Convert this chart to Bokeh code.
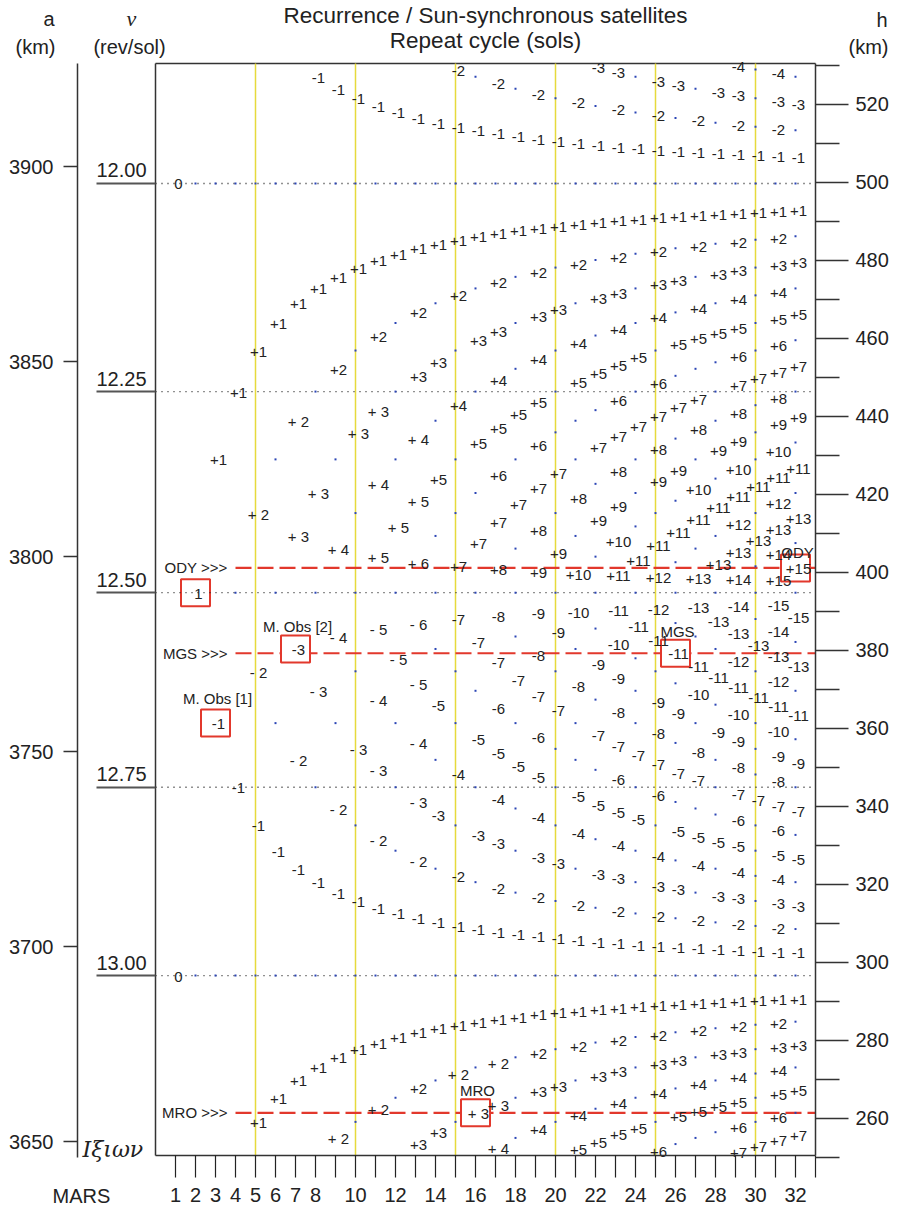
import math
from math import gcd

from bokeh.plotting import figure
from bokeh.models import (Range1d, LinearAxis, FixedTicker, ColumnDataSource,
                          CustomJSTickFormatter)
from bokeh.core.properties import value
from bokeh.embed import file_html
from bokeh.resources import INLINE

# ------------------------------------------------------------------ data
CYCLES = list(range(1, 33))                      # repeat cycles shown (sols)
X_TICKS = list(range(1, 34))
X_TICK_LABELS = ["1", "2", "3", "4", "5", "6", "7", "8", "", "10", "", "12", "", "14",
                 "", "16", "", "18", "", "20", "", "22", "", "24", "", "26", "", "28",
                 "", "30", "", "32", ""]
YELLOW_CYCLES = [5, 10, 15, 20, 25, 30]
NU_REF = [12.00, 12.25, 12.50, 12.75, 13.00]     # rev/sol
NU_REF_LABELS = ["12.00", "12.25", "12.50", "12.75", "13.00"]
H_TICKS = [260, 280, 300, 320, 340, 360, 380, 400, 420, 440, 460, 480, 500, 520]
H_MINOR = [250, 270, 290, 310, 330, 350, 370, 390, 410, 430, 450, 470, 490, 510, 530]
A_TICKS = [3650, 3700, 3750, 3800, 3850, 3900]

CYCLE_MIN, CYCLE_MAX = 0, 33                     # repeat-cycle axis extent
H_MIN, H_MAX = 250.5, 530.5                      # altitude range (km)
MARS_RADIUS = 3396.0                             # a = h + R
NU_KM_SCALE = 20486.0                            # h = S * nu^(-2/3) - O  (chart's nu scale)
NU_KM_OFFSET = 3408.7

# boxed orbits: cycle (sols), revolutions per cycle, name
BOX_CYCLE = [2, 3, 7, 26, 32, 16]
BOX_REVS = [25, 38, 88, 327, 399, 211]
BOX_NAMES = ["", "M. Obs [1]", "M. Obs [2]", "MGS", "ODY", "MRO"]

SAT_NAMES = ["ODY", "MGS", "MRO"]
SAT_CYCLE = [32, 26, 16]
SAT_REVS = [399, 327, 211]
SAT_LINE_START = 4                               # sols

# ------------------------------------------------------------------ helpers
def h_of_nu(nu):
    return NU_KM_SCALE * nu ** (-2.0 / 3.0) - NU_KM_OFFSET


def nu_of_h(h):
    return ((h + NU_KM_OFFSET) / NU_KM_SCALE) ** (-1.5)


def label_text(k, c, nu):
    if k == 0:
        return "0"
    if abs(nu - 12.5) < 1e-9:
        return str(abs(k))
    sign = "+" if k > 0 else "-"
    spaced = abs(k) >= 2 and ((c <= 13 and 12.26 < nu < 13.0 and not (c == 7 and k == -3))
                              or (nu > 13.0 and c <= 17 and c not in (13, 14)))
    return f"{sign}{' ' if spaced else ''}{abs(k)}"


nu_top = nu_of_h(H_MAX)
nu_bot = nu_of_h(H_MIN)
lab_x, lab_y, lab_t, dot_x, dot_y = [], [], [], [], []
for c in CYCLES:
    for n in range(math.ceil(nu_top * c), math.floor(nu_bot * c) + 1):
        nu = n / c
        h = h_of_nu(nu)
        if gcd(n, c) == 1:
            base = 12 if nu < 12.5 else 13
            k = n - base * c
            lab_x.append(c)
            lab_y.append(h)
            lab_t.append(label_text(k, c, nu))
        else:
            dot_x.append(c)
            dot_y.append(h)

# ------------------------------------------------------------------ layout constants
W, H = 899, 1208
BOX_LEFT_PX, BOX_TOP_PX = 155, 63                # where the plot box sits on the canvas
PX_PER_SOL, PX_PER_KM = 20.0, 3.9
FONT = "Liberation Sans"
SERIF = "Liberation Serif"
INK = "#222222"
RED = "#e2382c"


def dx(px):
    return CYCLE_MIN + (px - BOX_LEFT_PX) / PX_PER_SOL


def dy(py):
    return H_MAX - (py - BOX_TOP_PX) / PX_PER_KM


p = figure(width=W, height=H, x_range=Range1d(dx(0), dx(W)), y_range=Range1d(dy(H), dy(0)),
           output_backend="svg", toolbar_location=None,
           x_axis_location=None, y_axis_location=None,
           min_border_left=0, min_border_right=0, min_border_top=0, min_border_bottom=0)
p.grid.visible = False
p.outline_line_color = None
p.background_fill_color = "white"
p.border_fill_color = "white"
p.extra_y_ranges = {"a": Range1d(dy(H) + MARS_RADIUS, dy(0) + MARS_RADIUS)}

# bottom axis (repeat cycle)
xaxis = LinearAxis(ticker=FixedTicker(ticks=X_TICKS, minor_ticks=[]), fixed_location=H_MIN,
                   bounds=(CYCLE_MIN, CYCLE_MAX),
                   major_label_overrides={t: s for t, s in zip(X_TICKS, X_TICK_LABELS)})
xaxis.major_tick_out = 22
xaxis.major_tick_in = 0
xaxis.major_tick_line_color = "#222"
xaxis.major_tick_line_width = 1.2
xaxis.axis_line_color = "#333"
xaxis.axis_line_width = 1.5
xaxis.major_label_text_font = FONT
xaxis.major_label_text_font_size = "20px"
xaxis.major_label_text_color = INK
xaxis.major_label_standoff = 10
p.add_layout(xaxis, "below")

# right axis (h)
haxis = LinearAxis(ticker=FixedTicker(ticks=H_TICKS, minor_ticks=H_MINOR),
                   fixed_location=CYCLE_MAX, bounds=(H_MIN, H_MAX))
haxis.major_tick_out = 33
haxis.minor_tick_out = 24
haxis.major_tick_in = 0
haxis.minor_tick_in = 0
haxis.major_tick_line_color = "#333"
haxis.minor_tick_line_color = "#333"
haxis.major_tick_line_width = 1.5
haxis.minor_tick_line_width = 1.5
haxis.axis_line_color = "#333"
haxis.axis_line_width = 1.5
haxis.major_label_text_font = FONT
haxis.major_label_text_font_size = "20px"
haxis.major_label_text_color = INK
haxis.major_label_standoff = 7
p.add_layout(haxis, "right")

# nu underline axis (at the box's left edge)
nuaxis = LinearAxis(ticker=FixedTicker(ticks=[h_of_nu(v) for v in NU_REF], minor_ticks=[]),
                    formatter=CustomJSTickFormatter(code="return ''"),
                    fixed_location=CYCLE_MIN)
nuaxis.major_tick_out = 59
nuaxis.major_tick_in = 0
nuaxis.major_tick_line_color = "#555"
nuaxis.major_tick_line_width = 2
nuaxis.axis_line_color = "#333"
nuaxis.axis_line_width = 1.5
nuaxis.bounds = (H_MIN, H_MAX)
p.add_layout(nuaxis, "left")

# a axis (semi-major axis, km)
aaxis = LinearAxis(y_range_name="a", ticker=FixedTicker(ticks=A_TICKS, minor_ticks=[]),
                   fixed_location=dx(77), bounds=(H_MIN + MARS_RADIUS - 0.5, H_MAX + MARS_RADIUS))
aaxis.major_tick_out = 14
aaxis.major_tick_in = 0
aaxis.major_tick_line_color = "#333"
aaxis.major_tick_line_width = 1.5
aaxis.axis_line_color = "#333"
aaxis.axis_line_width = 1.5
aaxis.major_label_text_font = FONT
aaxis.major_label_text_font_size = "20px"
aaxis.major_label_text_color = INK
aaxis.major_label_standoff = 10
p.add_layout(aaxis, "left")

# top edge of the plot box
p.segment(x0=[CYCLE_MIN], x1=[CYCLE_MAX], y0=[H_MAX], y1=[H_MAX], line_color="#333", line_width=1.5)

# yellow 5-sol lines
p.segment(x0=YELLOW_CYCLES, x1=YELLOW_CYCLES, y0=[H_MIN] * len(YELLOW_CYCLES),
          y1=[H_MAX] * len(YELLOW_CYCLES), line_color="#e6da3c", line_width=1.5)

# satellites dashed lines
sat_h = [h_of_nu(n / c) for n, c in zip(SAT_REVS, SAT_CYCLE)]
p.segment(x0=[SAT_LINE_START] * len(SAT_NAMES), x1=[CYCLE_MAX] * len(SAT_NAMES), y0=sat_h,
          y1=sat_h, line_color=RED, line_width=2.2, line_dash="16 6")
p.text(x=[SAT_LINE_START - 0.4] * len(SAT_NAMES), y=sat_h, text=[s + " >>>" for s in SAT_NAMES],
       text_font=value(FONT), text_font_size="15px", text_color=INK,
       text_align="right", text_baseline="middle")

# boxes
box_h = [h_of_nu(n / c) for n, c in zip(BOX_REVS, BOX_CYCLE)]
p.rect(x=BOX_CYCLE, y=box_h, width=29, height=27,
       width_units="screen", height_units="screen", fill_color="white",
       line_color=RED, line_width=2)

# dotted nu lines
nu_h = [h_of_nu(v) for v in NU_REF]
p.segment(x0=[CYCLE_MIN] * len(nu_h), x1=[CYCLE_MAX] * len(nu_h), y0=nu_h, y1=nu_h,
          line_color="#222", line_width=1.3, line_dash="1 5")

# non-primitive points (dots)
p.scatter(x=dot_x, y=dot_y, marker="square", size=2, color="#2b45b5", line_width=0)

# primitive points: labels
src = ColumnDataSource(dict(x=lab_x, y=lab_y, t=lab_t))
p.text(x="x", y="y", text="t", source=src, text_font=value(FONT), text_font_size="15px",
       text_color=INK, text_align="center", text_baseline="middle", x_offset=3, y_offset=1)

# names above boxes
name_off = {"M. Obs [1]": -25, "M. Obs [2]": -22, "MGS": -22, "ODY": -15, "MRO": -22}
nm_x, nm_y, nm_t, nm_o = [], [], [], []
for c, h, nme in zip(BOX_CYCLE, box_h, BOX_NAMES):
    if nme:
        nm_x.append(c); nm_y.append(h); nm_t.append(nme); nm_o.append(name_off[nme])
p.text(x="x", y="y", text="t", source=ColumnDataSource(dict(x=nm_x, y=nm_y, t=nm_t, o=nm_o)),
       y_offset="o", x_offset=2, text_font=value(FONT), text_font_size="15px", text_color=INK,
       text_align="center", text_baseline="middle")

# nu labels above their underline
p.text(x=[dx(146)] * len(NU_REF), y=nu_h, text=NU_REF_LABELS, y_offset=-13,
       text_font=value(FONT), text_font_size="20px", text_color=INK,
       text_align="right", text_baseline="middle")


def head(text, px, py, align, size="20px", font=FONT, style="normal"):
    p.text(x=[dx(px)], y=[dy(py)], text=[text], text_font=value(font), text_font_size=size,
           text_font_style=style, text_color=INK, text_align=align,
           text_baseline="middle")


head("Recurrence / Sun-synchronous satellites", 485, 15, "center", size="22.5px")
head("Repeat cycle (sols)", 485, 40, "center", size="22.5px")
head("a", 54, 18, "right")
head("(km)", 55, 46, "right")
head("\u03bd", 131, 18, "center", size="22px", font=SERIF, style="italic")
head("(rev/sol)", 129, 46, "center")
head("h", 887, 19, "right")
head("(km)", 888, 46, "right")
head("MARS", 52, 1195, "left")
head("\u0399\u03be\u03b9\u03c9\u03bd", 82, 1149, "left", size="22px", font="DejaVu Serif",
     style="italic")

open("out.html", "w").write(file_html(p, INLINE))
